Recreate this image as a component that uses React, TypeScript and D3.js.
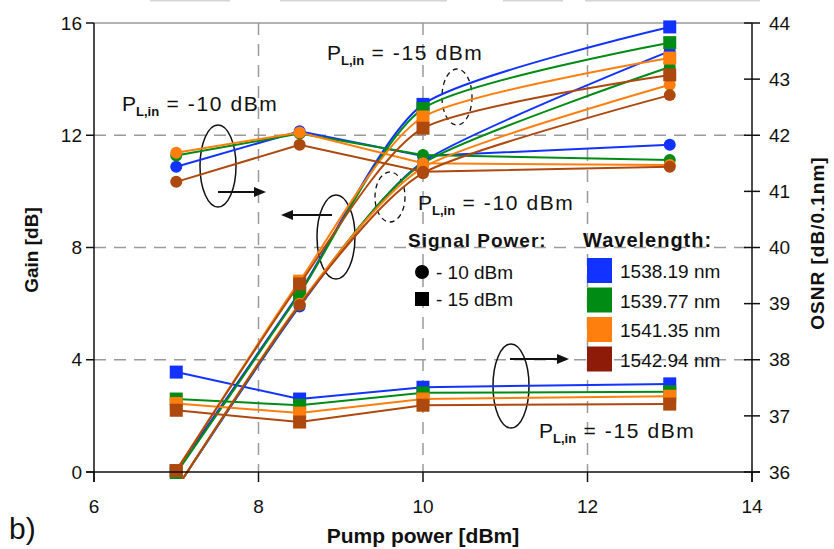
import React from "react";
import * as d3 from "d3";

// Pump power settings (dBm) at which every series was measured
const pumpPower = [7, 8.5, 10, 13];

// Channel wavelengths and their colours
const wavelengths = ["1538.19 nm", "1539.77 nm", "1541.35 nm", "1542.94 nm"];
const lineColors = ["#1233ff", "#008c14", "#ff7f0e", "#ad480e"];
const swatchColors = ["#1233ff", "#008c14", "#ff7f0e", "#8e1a08"];

// Gain [dB], signal power -15 dBm (squares)
const gainSig15Blue = [0.05, 6.4, 13.1, 15.86];
const gainSig15Green = [-0.05, 6.35, 12.95, 15.3];
const gainSig15Orange = [0.05, 6.8, 12.65, 14.75];
const gainSig15Brown = [0.05, 6.7, 12.25, 14.15];

// Gain [dB], signal power -10 dBm (circles)
const gainSig10Blue = [-0.6, 5.9, 11.05, 15.0];
const gainSig10Green = [-0.6, 5.95, 11.0, 14.43];
const gainSig10Orange = [-0.6, 6.0, 10.85, 13.8];
const gainSig10Brown = [-0.6, 5.95, 10.65, 13.43];

// OSNR [dB/0.1nm], signal power -10 dBm (circles)
const osnrSig10Blue = [41.44, 42.07, 41.63, 41.83];
const osnrSig10Green = [41.64, 42.03, 41.65, 41.56];
const osnrSig10Orange = [41.69, 42.05, 41.5, 41.47];
const osnrSig10Brown = [41.17, 41.83, 41.35, 41.44];

// OSNR [dB/0.1nm], signal power -15 dBm (squares)
const osnrSig15Blue = [37.78, 37.3, 37.51, 37.57];
const osnrSig15Green = [37.3, 37.19, 37.41, 37.43];
const osnrSig15Orange = [37.22, 37.05, 37.3, 37.35];
const osnrSig15Brown = [37.1, 36.89, 37.19, 37.21];

// Axis ticks
const xTicks = [6, 8, 10, 12, 14];
const gainTicks = [0, 4, 8, 12, 16];
const osnrTicks = [36, 37, 38, 39, 40, 41, 42, 43, 44];
const xGrid = [8, 10, 12];
const gainGrid = [4, 8, 12];

const gainSig15 = [gainSig15Blue, gainSig15Green, gainSig15Orange, gainSig15Brown];
const gainSig10 = [gainSig10Blue, gainSig10Green, gainSig10Orange, gainSig10Brown];
const osnrSig10 = [osnrSig10Blue, osnrSig10Green, osnrSig10Orange, osnrSig10Brown];
const osnrSig15 = [osnrSig15Blue, osnrSig15Green, osnrSig15Orange, osnrSig15Brown];

const FONT = "'Liberation Sans', Arial, Helvetica, sans-serif";

const left = 94;
const right = 752;
const top = 23;
const bottom = 472;

const x = d3.scaleLinear().domain([6, 14]).range([left, right]);
const yGain = d3.scaleLinear().domain([0, 16]).range([bottom, top]);
const yOsnr = d3.scaleLinear().domain([36, 44]).range([bottom, top]);

type Pt = [number, number];

function Series({
  values,
  y,
  color,
  shape,
  smooth,
}: {
  values: number[];
  y: d3.ScaleLinear<number, number>;
  color: string;
  shape: "circle" | "square";
  smooth: boolean;
}) {
  const pts: Pt[] = pumpPower.map((p, i) => [x(p), y(values[i])]);
  const line = d3
    .line<Pt>()
    .x((d) => d[0])
    .y((d) => d[1])
    .curve(smooth ? d3.curveCardinal.tension(0.35) : d3.curveLinear);
  return (
    <g>
      <path d={line(pts) || ""} fill="none" stroke={color} strokeWidth={2} />
      {pts.map((p, i) =>
        shape === "circle" ? (
          <circle key={i} cx={p[0]} cy={p[1]} r={6} fill={color} />
        ) : (
          <rect key={i} x={p[0] - 6.5} y={p[1] - 6.5} width={13} height={13} fill={color} />
        )
      )}
    </g>
  );
}

function PLabel({ x: tx, y: ty, value }: { x: number; y: number; value: string }) {
  return (
    <text x={tx} y={ty} fontFamily={FONT} fill="#111" fontSize={21}>
      <tspan>P</tspan>
      <tspan fontSize={13} fontWeight="bold" dy={5}>
        L,in
      </tspan>
      <tspan dy={-5} fontSize={21} letterSpacing={1.6}>
        {" = " + value}
      </tspan>
    </text>
  );
}

function Arrow({ x1, x2, y }: { x1: number; x2: number; y: number }) {
  const dir = x2 > x1 ? 1 : -1;
  return (
    <g>
      <line x1={x1} y1={y} x2={x2 - dir * 8} y2={y} stroke="#111" strokeWidth={2} />
      <path d={`M${x2},${y} L${x2 - dir * 12},${y - 5} L${x2 - dir * 12},${y + 5} Z`} fill="#111" />
    </g>
  );
}

// faint rule fragments along the top edge of the figure
const topRules: [number, number][] = [
  [150, 230],
  [280, 447],
  [503, 563],
  [585, 760],
];

export default function App() {
  return (
    <svg width={834} height={549} style={{ position: "absolute", left: 0, top: 0, background: "#fff" }}>
      <defs>
        <clipPath id="plot-clip">
          <rect x={left} y={top - 10} width={right - left} height={bottom - top + 17} />
        </clipPath>
      </defs>
      <rect x={0} y={0} width={834} height={549} fill="#fff" />
      {topRules.map(([a, b]) => (
        <line key={a} x1={a} x2={b} y1={0.5} y2={0.5} stroke="#d4d4d4" strokeWidth={2} />
      ))}

      {/* grid */}
      <line x1={left} x2={right} y1={top} y2={top} stroke="#9a9a9a" strokeWidth={1.5} />
      {gainGrid.map((g) => (
        <line key={g} x1={left} x2={right} y1={yGain(g)} y2={yGain(g)} stroke="#9a9a9a" strokeWidth={1.5} strokeDasharray="12 8" />
      ))}
      {xGrid.map((v) => (
        <line key={v} x1={x(v)} x2={x(v)} y1={top} y2={bottom} stroke="#9a9a9a" strokeWidth={1.5} strokeDasharray="12 9" />
      ))}

      {/* annotations: ellipses and arrows */}
      <ellipse cx={218} cy={166} rx={18} ry={41} fill="none" stroke="#111" strokeWidth={1.5} />
      <Arrow x1={218} x2={266} y={192} />
      <ellipse cx={336} cy={237} rx={19} ry={42} fill="none" stroke="#111" strokeWidth={1.5} />
      <Arrow x1={332} x2={281} y={215} />
      <ellipse cx={511} cy={386} rx={18} ry={42} fill="none" stroke="#111" strokeWidth={1.5} />
      <Arrow x1={510} x2={569} y={359} />
      <ellipse cx={390} cy={197} rx={15} ry={25} fill="none" stroke="#111" strokeWidth={1.3} strokeDasharray="5 4" />
      <ellipse cx={457} cy={97} rx={15} ry={28} fill="none" stroke="#111" strokeWidth={1.3} strokeDasharray="5 4" />

      {/* data */}
      <g clipPath="url(#plot-clip)">
        {wavelengths.map((w, i) => (
          <g key={w}>
            <Series values={osnrSig15[i]} y={yOsnr} color={lineColors[i]} shape="square" smooth={false} />
            <Series values={osnrSig10[i]} y={yOsnr} color={lineColors[i]} shape="circle" smooth={false} />
            <Series values={gainSig10[i]} y={yGain} color={lineColors[i]} shape="circle" smooth={true} />
            <Series values={gainSig15[i]} y={yGain} color={lineColors[i]} shape="square" smooth={true} />
          </g>
        ))}
      </g>

      {/* axes */}
      <line x1={left} x2={left} y1={top} y2={bottom + 10} stroke="#111" strokeWidth={1.5} />
      <line x1={left - 8} x2={right + 8} y1={bottom} y2={bottom} stroke="#111" strokeWidth={1.5} />
      <line x1={right} x2={right} y1={top} y2={bottom + 10} stroke="#111" strokeWidth={1.5} />
      {gainTicks.map((g) => (
        <g key={g}>
          <line x1={left - 8} x2={left} y1={yGain(g)} y2={yGain(g)} stroke="#111" strokeWidth={1.5} />
          <text x={82} y={yGain(g)} dy="0.35em" textAnchor="end" fontFamily={FONT} fontSize={19} fill="#111">
            {g}
          </text>
        </g>
      ))}
      {osnrTicks.map((o) => (
        <g key={o}>
          <line x1={right - 8} x2={right + 8} y1={yOsnr(o)} y2={yOsnr(o)} stroke="#111" strokeWidth={1.5} />
          <text x={769} y={yOsnr(o)} dy="0.35em" fontFamily={FONT} fontSize={19} fill="#111">
            {o}
          </text>
        </g>
      ))}
      {xTicks.map((t) => (
        <g key={t}>
          <line x1={x(t)} x2={x(t)} y1={bottom} y2={bottom + 10} stroke="#111" strokeWidth={1.5} />
          <text x={x(t)} y={513} textAnchor="middle" fontFamily={FONT} fontSize={19} fill="#111">
            {t}
          </text>
        </g>
      ))}

      {/* axis titles */}
      <text transform="translate(38,250) rotate(-90)" textAnchor="middle" fontFamily={FONT} fontSize={19} fontWeight="bold" fill="#111">
        Gain [dB]
      </text>
      <text transform="translate(824,243) rotate(-90)" textAnchor="middle" fontFamily={FONT} fontSize={19} fontWeight="bold" fill="#111" letterSpacing={1}>
        OSNR [dB/0.1nm]
      </text>
      <text x={423} y={543} textAnchor="middle" fontFamily={FONT} fontSize={21} fontWeight="bold" fill="#111">
        Pump power [dBm]
      </text>
      <text x={9} y={539} fontFamily={FONT} fontSize={30} fill="#111">
        b)
      </text>

      {/* P_L,in labels */}
      <PLabel x={122} y={111} value="-10 dBm" />
      <PLabel x={327} y={60} value="-15 dBm" />
      <PLabel x={418} y={210} value="-10 dBm" />
      <PLabel x={539} y={438} value="-15 dBm" />

      {/* legend: signal power */}
      <text x={408} y={247} fontFamily={FONT} fontSize={19} fontWeight="bold" fill="#111" letterSpacing={1}>
        Signal Power:
      </text>
      <circle cx={422} cy={272} r={7} fill="#000" />
      <text x={436} y={279} fontFamily={FONT} fontSize={19} fill="#111">
        - 10 dBm
      </text>
      <rect x={415} y={292} width={14} height={14} fill="#000" />
      <text x={436} y={306} fontFamily={FONT} fontSize={19} fill="#111">
        - 15 dBm
      </text>

      {/* legend: wavelength */}
      <text x={583} y={247} fontFamily={FONT} fontSize={20} fontWeight="bold" fill="#111" letterSpacing={1}>
        Wavelength:
      </text>
      {wavelengths.map((w, i) => (
        <g key={w}>
          <rect x={587} y={258 + i * 29.5} width={25} height={25} fill={swatchColors[i]} />
          <text x={620} y={278 + i * 29.5} fontFamily={FONT} fontSize={19} fill="#111">
            {w}
          </text>
        </g>
      ))}
    </svg>
  );
}
